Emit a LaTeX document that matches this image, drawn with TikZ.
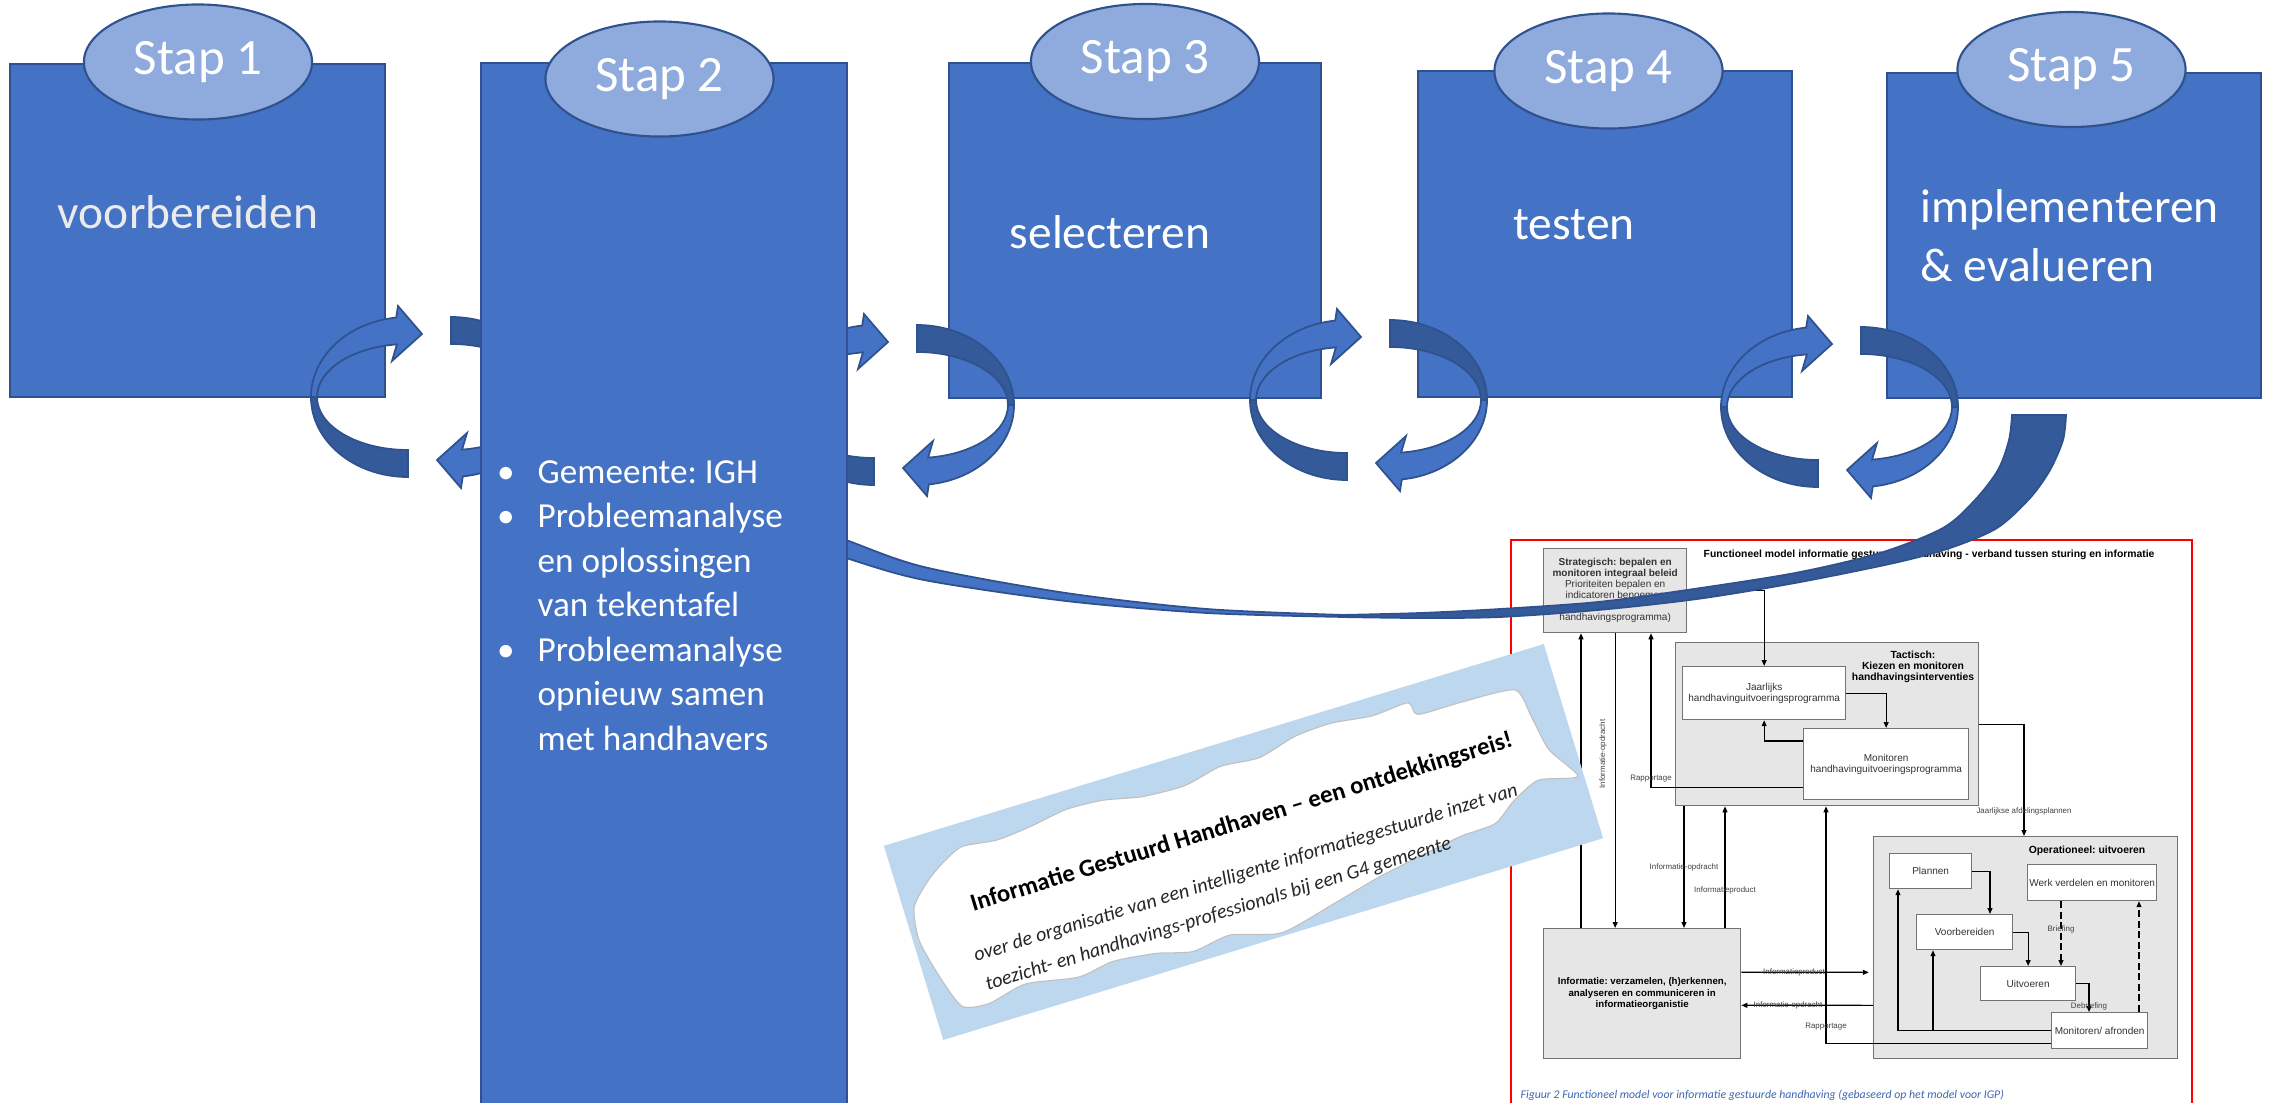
\documentclass[tikz,border=0pt]{standalone}
\usepackage{fontspec}
\setmainfont{Carlito}
\newfontfamily\figfont{Liberation Sans}
\usepackage{tikz}
\usetikzlibrary{positioning,shapes.geometric,arrows.meta,calc}
\frenchspacing

\definecolor{boxblue}{HTML}{4472C4}
\definecolor{boxline}{HTML}{2F528F}
\definecolor{stapblue}{HTML}{8FAADC}
\definecolor{bandblue}{HTML}{345A9A}
\definecolor{cardblue}{HTML}{BDD7EE}
\definecolor{figgray}{HTML}{E6E6E6}
\definecolor{capblue}{HTML}{3C67B0}

\tikzset{
    stepbox/.style={draw=boxline, fill=boxblue, line width=0.6pt, anchor=north west, inner sep=0pt},
    stapoval/.style={ellipse, draw=boxline, fill=stapblue, line width=0.6pt, minimum width=2.28cm,
        minimum height=1.15cm, inner sep=0pt, text=white, font=\fontsize{14.5}{17}\selectfont},
    steptext/.style={text=white, inner sep=0pt, font=\fontsize{13.5}{16.7}\selectfont},
    bullettext/.style={text=white, inner sep=0pt, anchor=base west, font=\fontsize{10}{12.6}\selectfont},
    band/.style={fill=bandblue, draw=boxline, line width=0.5pt},
    curl/.style={fill=boxblue, draw=boxline, line width=0.5pt},
    fbox/.style={draw=black!55, fill=figgray, line width=0.35pt, anchor=north west, inner sep=0pt,
        align=center, text=black!80, font=\figfont\fontsize{2.85}{3.1}\selectfont},
    fwhite/.style={fbox, fill=white},
    ftitle/.style={inner sep=0pt, align=center, font=\figfont\bfseries\fontsize{2.95}{3.05}\selectfont},
    flabel/.style={inner sep=0.2pt, text=black!75, font=\figfont\fontsize{2.25}{2.6}\selectfont},
    fline/.style={line width=0.35pt, -{Triangle[length=1.7pt,width=1.4pt]}},
    cardtitle/.style={transform shape, inner sep=0pt, font=\bfseries\fontsize{7}{8}\selectfont},
    cardsub/.style={transform shape, inner sep=0pt, text=black!85, font=\itshape\fontsize{5.7}{6.5}\selectfont},
}

% one half of a turning arrow, ring centre at the origin
\newcommand{\halfcurl}{%
    \filldraw[band] (-97,0) arc[start angle=180, end angle=270, x radius=97, y radius=80]
        -- (0,-53) arc[start angle=270, end angle=180, x radius=91, y radius=53] -- cycle;
    \filldraw[curl] (-97,0) arc[start angle=180, end angle=97, x radius=97, y radius=80]
        -- (-10,91) -- (14,63) -- (-16,36) -- (-11.1,52.6)
        arc[start angle=97, end angle=180, x radius=91, y radius=53] -- cycle;
}
% pair of turning arrows between two steps
\newcommand{\curlpair}[2]{%
    \begin{scope}[shift={(#1-21.5,#2)}]\halfcurl\end{scope}
    \begin{scope}[shift={(#1+21.5,#2)}, rotate=180]\halfcurl\end{scope}
}

\begin{document}
\begin{tikzpicture}[x=0.01cm, y=0.01cm]
    \useasboundingbox (0,0) rectangle (2272,-1103);

    % Functional model (figure)
    \draw[red, line width=0.7pt] (1511,-1110) -- (1511,-540) -- (2192,-540) -- (2192,-1110);
    \node[ftitle, anchor=west] (ftitle) at (1703,-555)
        {Functioneel model informatie gestuurde handhaving - verband tussen sturing en informatie};
    \node[fbox, minimum width=1.43cm, minimum height=0.84cm] (strat) at (1543,-548)
        {\textbf{Strategisch: bepalen en}\\\textbf{monitoren integraal beleid}\\Prioriteiten bepalen en\\indicatoren benoemen\\[3.1pt]handhavingsprogramma)};
    \node[fbox, minimum width=3.03cm, minimum height=1.63cm] (tact) at (1675,-642) {};
    \node[ftitle] (tactlabel) at (1913,-667) {Tactisch:\\Kiezen en monitoren\\handhavingsinterventies};
    \node[fwhite, minimum width=1.63cm, minimum height=0.53cm] (jaar) at (1682,-666)
        {Jaarlijks\\handhavinguitvoeringsprogramma};
    \node[fwhite, minimum width=1.65cm, minimum height=0.71cm] (monit) at (1803,-728)
        {Monitoren\\handhavinguitvoeringsprogramma};
    \node[fbox, minimum width=1.97cm, minimum height=1.30cm, text=black,
        font=\figfont\bfseries\fontsize{2.75}{3.2}\selectfont] (info) at (1543,-928)
        {Informatie: verzamelen, (h)erkennen,\\analyseren en communiceren in\\informatieorganistie};
    \node[fbox, minimum width=3.04cm, minimum height=2.22cm] (oper) at (1873,-836) {};
    \node[ftitle] (operlabel) at (2087,-851) {Operationeel: uitvoeren};
    \node[fwhite, minimum width=0.82cm, minimum height=0.35cm] (plan) at (1889,-853) {Plannen};
    \node[fwhite, minimum width=1.29cm, minimum height=0.36cm] (werk) at (2027,-864) {Werk verdelen en monitoren};
    \node[fwhite, minimum width=0.96cm, minimum height=0.35cm] (voorb) at (1916,-914) {Voorbereiden};
    \node[fwhite, minimum width=0.95cm, minimum height=0.34cm] (uitv) at (1980,-966) {Uitvoeren};
    \node[fwhite, minimum width=0.96cm, minimum height=0.36cm] (mafr) at (2051,-1012) {Monitoren/ afronden};
    \node[anchor=west, inner sep=0pt, text=capblue, font=\itshape\fontsize{3.35}{4}\selectfont] (fcap) at (1520,-1095)
        {Figuur 2 Functioneel model voor informatie gestuurde handhaving (gebaseerd op het model voor IGP)};

    % Figure connectors
    \draw[fline] (strat.east) -| (jaar.north);
    \draw[fline] (jaar.east) -| (monit.north);
    \draw[fline] ($(monit.north west)+(0,-13)$) -| (jaar.south);
    \draw[fline] ($(monit.south west)+(0,13)$) -| ($(strat.south west)+(108,0)$);
    \node[flabel] (rap1) at (1651,-779) {Rapportage};
    \draw[fline] (strat.south) -- (strat.south |- info.north);
    \node[flabel, rotate=90] (iop1) at (1603,-754) {Informatie-opdracht};
    \draw[fline] ($(info.north west)+(38,0)$) -- ($(strat.south west)+(38,0)$);
    \draw[fline] ($(tact.south west)+(9,0)$) -- ($(info.north west)+(141,0)$);
    \node[flabel] (iop2) at (1684,-867) {Informatie-opdracht};
    \draw[fline] ($(info.north west)+(182,0)$) -- ($(tact.south west)+(50,0)$);
    \node[flabel] (iprod1) at (1725,-890) {Informatieproduct};
    \draw[fline] ($(mafr.south west)+(0,6)$) -| ($(tact.south west)+(151,0)$);
    \node[flabel] (rap2) at (1826,-1027) {Rapportage};
    \draw[fline] ($(tact.south east)+(0,82)$) -| ($(oper.north west)+(151,0)$);
    \node[flabel] (jap) at (2024,-811) {Jaarlijkse afdelingsplannen};
    \draw[fline, shorten >=1.2pt] ($(info.south east)+(0,87)$) -- ($(oper.south west)+(0,87)$);
    \node[flabel] (iprod2) at (1794,-972) {Informatieproduct};
    \draw[fline] ($(oper.south west)+(0,54)$) -- ($(info.south east)+(0,54)$);
    \node[flabel] (iop3) at (1788,-1005) {Informatie-opdracht};
    \draw[fline] (plan.east) -| ($(voorb.north west)+(74,0)$);
    \draw[fline] (voorb.east) -| (uitv.north);
    \draw[fline, dash pattern=on 2pt off 1pt] ($(werk.south west)+(34,0)$) -- ($(uitv.north west)+(81,0)$);
    \node[flabel] (brief) at (2061,-929) {Briefing};
    \draw[fline] (uitv.east) -| ($(mafr.north west)+(38,0)$);
    \node[flabel] (debrief) at (2089,-1006) {Debriefing};
    \draw[fline, dash pattern=on 2pt off 1pt] ($(mafr.north west)+(88,0)$) -- ($(werk.south west)+(112,0)$);
    \draw[fline] (mafr.west) -| ($(plan.south west)+(9,0)$);
    \draw[fline] ($(mafr.west)+(-118,0)$) -- ($(voorb.south west)+(17,0)$);

    % Title card
    \begin{scope}[shift={(1243.5,-842)}, rotate=17]
        \fill[cardblue] (-345,-101.5) rectangle (345,101.5);
        \filldraw[fill=white, draw=black!25, line width=0.3pt] plot[smooth cycle, tension=0.4] coordinates {
            (-334,34) (-312,56) (-290,70) (-270,78) (-235,74) (-200,77) (-160,83) (-122,81) (-84,73)
            (-40,71) (0,79) (40,76) (80,86) (118,88) (160,83) (198,85) (204,71) (250,70) (304,66)
            (312,35) (319,-1) (339,-35) (300,-27) (270,-40) (246,-56) (210,-58) (172,-64) (120,-73)
            (70,-85) (10,-98) (-40,-85) (-80,-90) (-116,-81) (-160,-76) (-197,-81) (-250,-72)
            (-290,-80) (-317,-75) (-330,-40) (-339,1)};
        \node[cardtitle] (cardhead) at (4,19) {Informatie Gestuurd Handhaven – een ontdekkingsreis!};
        \node[cardsub] (cardsub1) at (-7,-31) {over de organisatie van een intelligente informatiegestuurde inzet van};
        \node[cardsub] (cardsub2) at (-45,-62) {toezicht- en handhavings-professionals bij een G4 gemeente};
    \end{scope}

    % Long return arrow
    \filldraw[curl] plot[smooth] coordinates {(1345,-615) (1207,-609) (1066,-593) (924,-567) (846,-540) (790,-520)}
        -- plot[smooth] coordinates {(790,-539) (846,-558) (924,-580) (1066,-601) (1207,-613) (1345,-617)} -- cycle;
    \filldraw[band] plot[smooth] coordinates {(2066,-415) (2063,-440) (2050,-470) (2030,-498) (1997,-528)
            (1950,-548) (1894,-563) (1795,-583) (1697,-599) (1598,-610) (1500,-617) (1420,-618) (1340,-617)}
        -- plot[smooth] coordinates {(1340,-615) (1420,-613) (1500,-609) (1598,-602) (1687,-590) (1795,-573)
            (1880,-553) (1943,-528) (1975,-500) (1998,-470) (2009,-440) (2012,-415)} -- cycle;

    % Steps
    \node[stepbox, minimum width=3.75cm, minimum height=3.33cm] (box1) at (9,-63) {};
    \node[stepbox, minimum width=3.72cm, minimum height=3.35cm] (box3) at (948,-62) {};
    \node[stepbox, minimum width=3.74cm, minimum height=3.26cm] (box4) at (1417,-70) {};
    \node[stepbox, minimum width=3.74cm, minimum height=3.25cm] (box5) at (1886,-72) {};

    % Turning arrows
    \curlpair{429.5}{-397}
    \curlpair{895.5}{-405}
    \curlpair{1368.5}{-400}
    \curlpair{1839.5}{-407}

    \node[stepbox, minimum width=3.66cm, minimum height=10.6cm] (box2) at (480,-62) {};

    % Step labels
    \node[stapoval] (stap1) at (198,-62) {Stap 1};
    \node[stapoval] (stap2) at (659.5,-79) {Stap 2};
    \node[stapoval] (stap3) at (1145,-61.5) {Stap 3};
    \node[stapoval] (stap4) at (1608.5,-71) {Stap 4};
    \node[stapoval] (stap5) at (2071.5,-69.5) {Stap 5};

    % Texts
    \node[steptext, text=white!92!black] (prep) at (188,-212) {voorbereiden};
    \node[steptext] (select) at (1110,-232) {selecteren};
    \node[steptext] (test) at (1574,-225) {testen};
    \node[steptext, anchor=west, align=left] (impl) at (1920,-235.5) {implementeren\\\& evalueren};
    \foreach \ln [count=\i] in {Gemeente: IGH, Probleemanalyse, en oplossingen, van tekentafel,
            Probleemanalyse, opnieuw samen, met handhavers}
        \node[bullettext] (line\i) at (537,{-483-44.5*(\i-1)}) {\ln};
    \foreach \i in {1,2,5}
        \node[bullettext, anchor=base] (dot\i) at ($(line\i.base west)+(-31,0)$) {\textbullet};
\end{tikzpicture}
\end{document}
